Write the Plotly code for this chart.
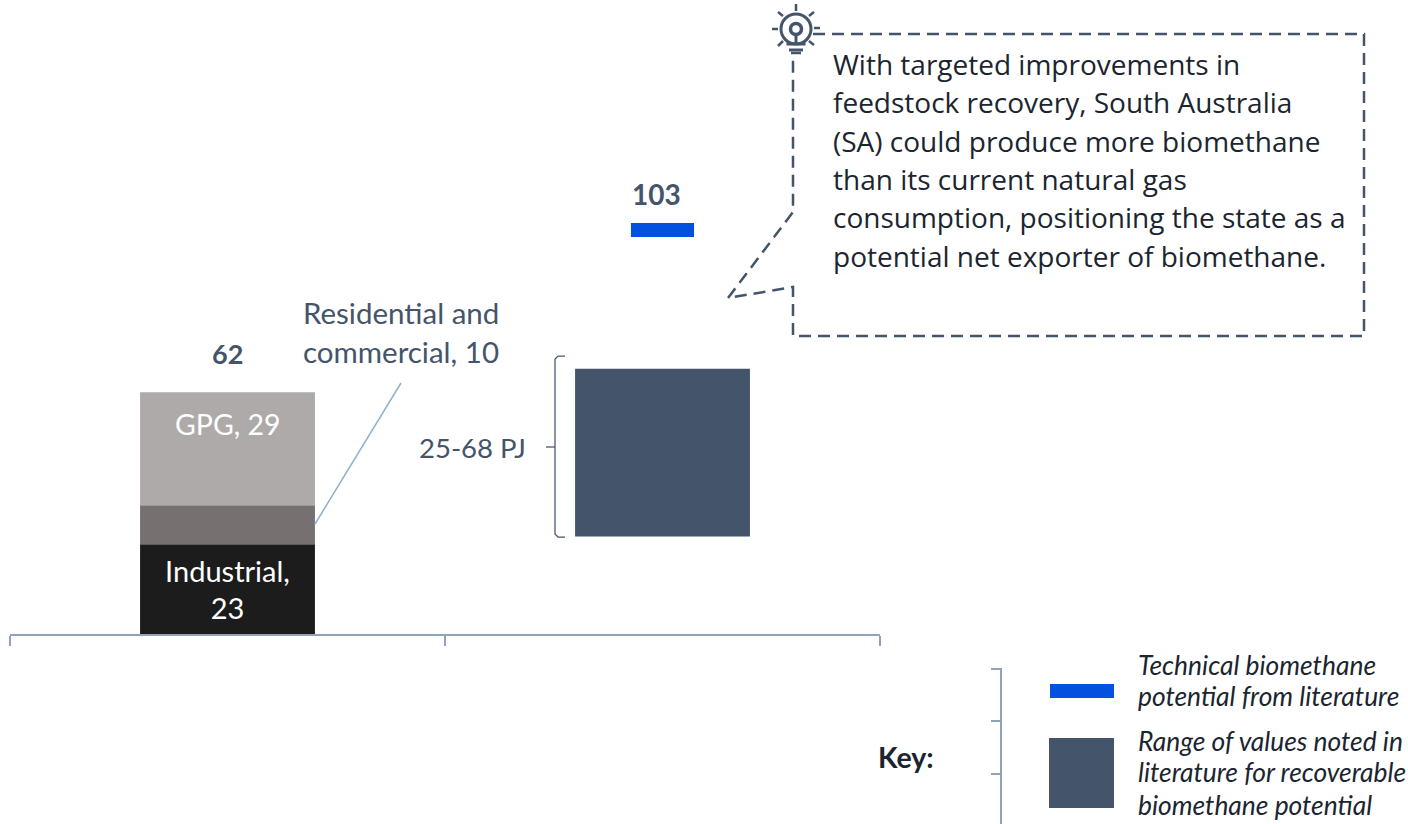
import plotly.graph_objects as go

W, H = 1408, 824
DARK = "#44546a"
BLUE = "#0352df"
AXIS = "#8fa3bd"
INK = "#1b2530"
LATO = "Lato, sans-serif"
OPEN = "Open Sans, sans-serif"

categories = ["Consumption", "Potential"]
sector_names = ["Industrial", "Residential and commercial", "GPG"]
sector_values = [23, 10, 29]
sector_colors = ["#1c1c1c", "#767170", "#aeaaaa"]
sector_labels = ["Industrial,<br>23", "", ""]
total_consumption = 62
technical_potential = 103
recoverable_low = 25
recoverable_high = 68

callout_lines = [
    "With targeted improvements in",
    "feedstock recovery, South Australia",
    "(SA) could produce more biomethane",
    "than its current natural gas",
    "consumption, positioning the state as a",
    "potential net exporter of biomethane.",
]
callout_rows = [64, 102, 141, 179, 217, 256]


def px(x):
    return x / W


def py(y):
    return 1 - y / H


def path(points, close=False):
    parts = [f"{'M' if i == 0 else 'L'} {px(x):.5f} {py(y):.5f}" for i, (x, y) in enumerate(points)]
    return " ".join(parts) + (" Z" if close else "")


def line_shape(points, color=DARK, width=1.5, dash=None):
    return dict(
        type="path", xref="paper", yref="paper", path=path(points),
        line=dict(color=color, width=width, dash=dash), fillcolor="rgba(0,0,0,0)",
    )


def box(x0, y0, x1, y1, color):
    return dict(
        type="rect", xref="paper", yref="paper",
        x0=px(x0), x1=px(x1), y0=py(y0), y1=py(y1),
        fillcolor=color, line_width=0,
    )


def circle(cx, cy, r, width=3):
    return dict(
        type="circle", xref="paper", yref="paper",
        x0=px(cx - r), x1=px(cx + r), y0=py(cy - r), y1=py(cy + r),
        line=dict(color=DARK, width=width), fillcolor="rgba(0,0,0,0)",
    )


def text(x, y, label, size=29.5, color=DARK, font=LATO, anchor="left"):
    return dict(
        xref="paper", yref="paper", x=px(x), y=py(y), text=label, showarrow=False,
        xanchor=anchor, yanchor="middle", align=anchor,
        font=dict(family=font, size=size, color=color), borderpad=0, borderwidth=0,
    )


fig = go.Figure()

bases = [sum(sector_values[:i]) for i in range(len(sector_values))]
for name, value, base, color, label in zip(sector_names, sector_values, bases, sector_colors, sector_labels):
    fig.add_trace(go.Bar(
        x=[categories[0]], y=[value], base=[base], name=name, width=0.402,
        marker=dict(color=color, line_width=0),
        text=[label], textposition="inside", textangle=0, constraintext="none",
        insidetextanchor="middle",
        insidetextfont=dict(family=LATO, size=29, color="white"),
    ))

fig.add_trace(go.Bar(
    x=[categories[1]], y=[recoverable_high - recoverable_low], base=[recoverable_low],
    name="Recoverable range", width=0.402, marker=dict(color=DARK, line_width=0),
))
fig.add_trace(go.Bar(
    x=[categories[1]], y=[3.6], base=[technical_potential - 1.2],
    name="Technical potential", width=0.145, marker=dict(color=BLUE, line_width=0),
))

shapes = [
    # callout outline
    line_shape(
        [(813, 34), (1364, 34), (1364, 336), (793, 336), (793, 287), (728, 298), (793, 212), (793, 53)],
        width=2.5, dash="12px,7px",
    ),
    # bracket round the range bar
    line_shape([(565, 356), (558, 356), (555, 359), (555, 534), (558, 537), (565, 537)], width=1.25),
    line_shape([(546, 447), (555, 447)], width=1.25),
    # leader line
    line_shape([(315, 524), (401, 383)], color="#8fb0d0", width=1.5),
    # key bracket
    line_shape([(991, 669), (1001, 669), (1001, 824)], color=AXIS, width=2),
    line_shape([(991, 721), (1001, 721)], color=AXIS, width=2),
    line_shape([(991, 774), (1001, 774)], color=AXIS, width=2),
    # key swatches
    box(1050, 684, 1114, 698, BLUE),
    box(1049, 738, 1114, 808, DARK),
    # light bulb icon
    circle(796, 29, 15),
    circle(796, 29, 5.5, width=3.5),
    line_shape([(796, 34), (796, 44)], width=3),
    line_shape([(788, 42), (788, 44), (804, 44), (804, 42)], width=3),
    line_shape([(789, 50), (803, 50)], width=3),
    line_shape([(791, 53), (801, 53)], width=2.5),
]
for ray in [
    [(796, 4), (796, 11)], [(772, 29), (778, 29)], [(814, 28), (820, 28)],
    [(778, 12), (783, 16)], [(814, 12), (809, 16)], [(778, 46), (783, 41)], [(814, 45), (809, 41)],
]:
    shapes.append(line_shape(ray, width=2.5))

annotations = [
    dict(xref="x", yref="y", x=categories[0], y=total_consumption, yshift=39, text=f"<b>{total_consumption}</b>",
         showarrow=False, font=dict(family=LATO, size=27, color=DARK)),
    dict(xref="x", yref="y", x=categories[1], y=technical_potential, yshift=38, xshift=-6,
         text=f"<b>{technical_potential}</b>", showarrow=False, font=dict(family=LATO, size=28, color=DARK)),
    dict(xref="x", yref="y", x=categories[0], y=total_consumption, yshift=-32, text="GPG, 29",
         showarrow=False, font=dict(family=LATO, size=28.5, color="white")),
    text(303, 312, "Residential and"),
    text(303, 351, "commercial, 10"),
    text(419, 447, f"{recoverable_low}-{recoverable_high} PJ", size=27.5),
    text(878, 757, "<b>Key:</b>", size=28.5, color=INK),
    text(1138, 665, "<i>Technical biomethane</i>", size=26.4, color=INK),
    text(1138, 696, "<i>potential from literature</i>", size=26.4, color=INK),
    text(1138, 741, "<i>Range of values noted in</i>", size=26.4, color=INK),
    text(1138, 772, "<i>literature for recoverable</i>", size=26.4, color=INK),
    text(1138, 805, "<i>biomethane potential</i>", size=26.4, color=INK),
]
for row, line in zip(callout_rows, callout_lines):
    annotations.append(text(833, row, line, size=28, color=INK, font=OPEN))

fig.update_layout(
    width=W, height=H, margin=dict(l=0, r=0, t=0, b=0),
    paper_bgcolor="white", plot_bgcolor="white",
    barmode="overlay", showlegend=False,
    shapes=shapes, annotations=annotations,
)
fig.update_xaxes(
    domain=[px(10), px(880)], type="category", categoryorder="array", categoryarray=categories,
    showgrid=False, zeroline=False, showticklabels=False,
    showline=True, linecolor=AXIS, linewidth=2,
    ticks="outside", tickson="boundaries", ticklen=10, tickcolor=AXIS, tickwidth=2,
)
fig.update_yaxes(
    domain=[py(634), 1], range=[0, 634 / 3.9], visible=False,
)

fig.write_html(
    "out.html",
    config=dict(displayModeBar=False),
    post_script="document.body.style.margin='0';document.body.style.overflow='hidden';",
)
